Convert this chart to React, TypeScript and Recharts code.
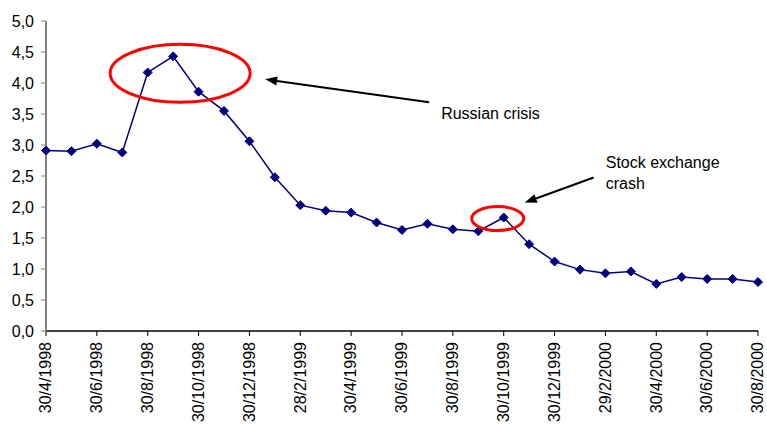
import { LineChart, Line, XAxis, YAxis, ReferenceDot } from 'recharts';

// Monthly observations, 30th of each month (end of Feb for February)
const dates = [
  '30/4/1998', '30/5/1998', '30/6/1998', '30/7/1998', '30/8/1998', '30/9/1998',
  '30/10/1998', '30/11/1998', '30/12/1998', '30/1/1999', '28/2/1999', '30/3/1999',
  '30/4/1999', '30/5/1999', '30/6/1999', '30/7/1999', '30/8/1999', '30/9/1999',
  '30/10/1999', '30/11/1999', '30/12/1999', '30/1/2000', '29/2/2000', '30/3/2000',
  '30/4/2000', '30/5/2000', '30/6/2000', '30/7/2000', '30/8/2000',
];

const values = [
  2.91, 2.9, 3.02, 2.88, 4.17, 4.43,
  3.86, 3.55, 3.06, 2.48, 2.03, 1.94,
  1.91, 1.75, 1.63, 1.73, 1.64, 1.61,
  1.83, 1.4, 1.12, 0.99, 0.93, 0.96,
  0.76, 0.87, 0.84, 0.84, 0.79,
];

const yTicks = [0, 0.5, 1, 1.5, 2, 2.5, 3, 3.5, 4, 4.5, 5];

const data = dates.map((date, i) => ({ date, value: values[i] }));

const FONT = '"Liberation Sans", Arial, sans-serif';
const NAVY = '#000080';

function fmt(v: number) {
  return v.toFixed(1).replace('.', ',');
}

function Diamond({ cx, cy }: any) {
  if (cx == null || cy == null) return null;
  const r = 4.5;
  return (
    <polygon
      points={`${cx},${cy - r} ${cx + r},${cy} ${cx},${cy + r} ${cx - r},${cy}`}
      fill={NAVY}
      stroke={NAVY}
    />
  );
}

function DateTick({ x, y, payload }: any) {
  return (
    <g transform={`translate(${x},${y + 4})`}>
      <text
        x={0}
        y={0}
        dy="0.33em"
        transform="rotate(-90)"
        textAnchor="end"
        fill="#000"
        fontSize={16}
        fontFamily={FONT}
      >
        {payload.value}
      </text>
    </g>
  );
}

function Arrow({ x1, y1, x2, y2 }: { x1: number; y1: number; x2: number; y2: number }) {
  const ang = Math.atan2(y2 - y1, x2 - x1);
  const len = 12;
  const w = 4.5;
  const bx = x2 - len * Math.cos(ang);
  const by = y2 - len * Math.sin(ang);
  const px = -Math.sin(ang) * w;
  const py = Math.cos(ang) * w;
  return (
    <g>
      <line x1={x1} y1={y1} x2={bx} y2={by} stroke="#000" strokeWidth={2} />
      <polygon points={`${x2},${y2} ${bx + px},${by + py} ${bx - px},${by - py}`} fill="#000" />
    </g>
  );
}

// Ellipse around the peak, arrow and caption, placed relative to the anchor point
function RussianNote({ cx, cy }: any) {
  if (cx == null || cy == null) return null;
  return (
    <g>
      <ellipse cx={cx + 7} cy={cy + 17} rx={70} ry={29} fill="none" stroke="#ff0000" strokeWidth={3} />
      <Arrow x1={cx + 256} y1={cy + 46} x2={cx + 92} y2={cy + 23} />
      <text x={cx + 268} y={cy + 57} dy="0.35em" fontSize={16} fontFamily={FONT} fill="#000">
        Russian crisis
      </text>
    </g>
  );
}

function CrashNote({ cx, cy }: any) {
  if (cx == null || cy == null) return null;
  return (
    <g>
      <ellipse cx={cx - 6} cy={cy + 1} rx={26} ry={12} fill="none" stroke="#ff0000" strokeWidth={3} />
      <Arrow x1={cx + 90} y1={cy - 40} x2={cx + 21} y2={cy - 15} />
      <text x={cx + 102} y={cy - 55} dy="0.35em" fontSize={16} fontFamily={FONT} fill="#000">
        Stock exchange
      </text>
      <text x={cx + 102} y={cy - 34} dy="0.35em" fontSize={16} fontFamily={FONT} fill="#000">
        crash
      </text>
    </g>
  );
}

export default function App() {
  return (
    <div style={{ position: 'absolute', left: 0, top: 0, width: 767, height: 424, background: '#fff' }}>
      <LineChart width={767} height={424} data={data} margin={{ top: 21, right: 9, bottom: 0, left: 1 }}>
        <XAxis
          dataKey="date"
          interval={1}
          tick={<DateTick />}
          tickSize={5}
          height={93}
          stroke="#000"
          axisLine={{ stroke: '#000', strokeWidth: 1.5 }}
          tickLine={{ stroke: '#000' }}
        />
        <YAxis
          domain={[0, 5]}
          ticks={yTicks}
          tickFormatter={fmt}
          width={45}
          tickSize={5}
          tickMargin={7}
          interval={0}
          axisLine={{ stroke: '#808080', strokeWidth: 2 }}
          tickLine={{ stroke: '#808080' }}
          tick={{ fill: '#000', fontSize: 16, fontFamily: FONT }}
        />
        <Line
          type="linear"
          dataKey="value"
          stroke={NAVY}
          strokeWidth={1.5}
          dot={<Diamond />}
          activeDot={false}
          isAnimationActive={false}
        />
        <ReferenceDot x="30/9/1998" y={4.43} r={0} shape={<RussianNote />} ifOverflow="visible" />
        <ReferenceDot x="30/10/1999" y={1.83} r={0} shape={<CrashNote />} ifOverflow="visible" />
      </LineChart>
    </div>
  );
}
